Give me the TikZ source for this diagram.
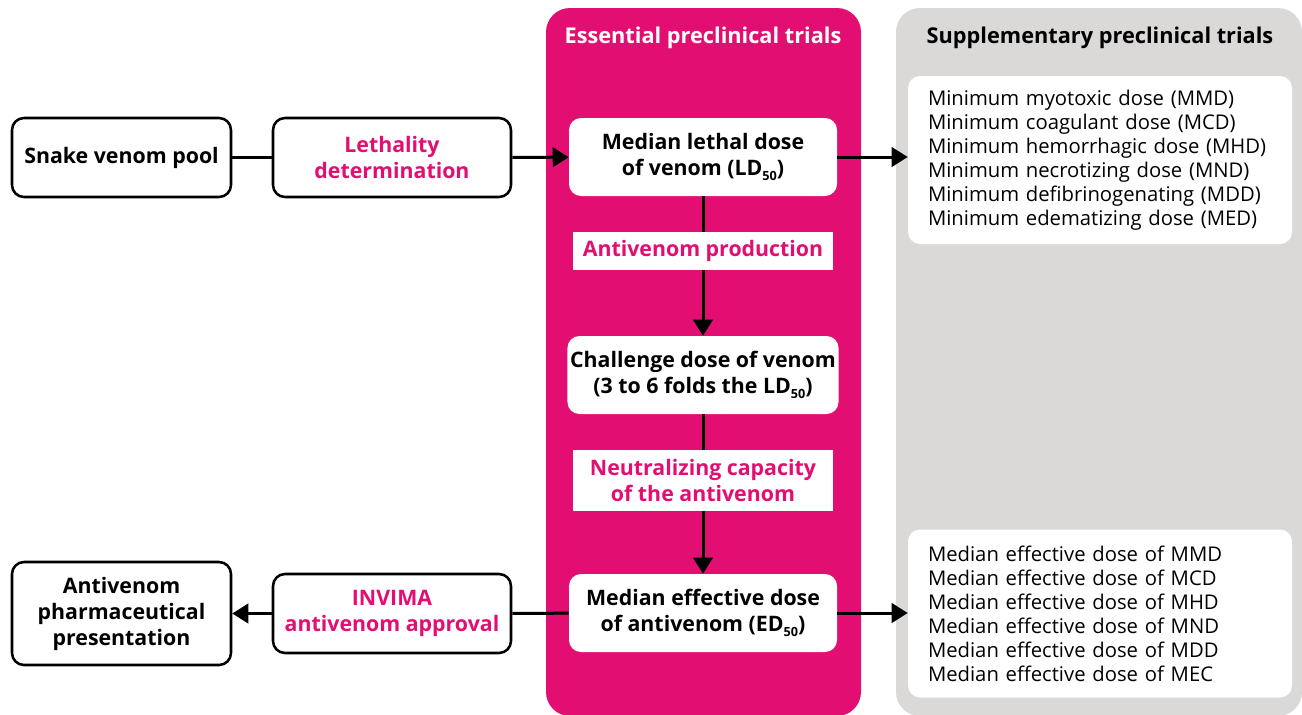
\documentclass[tikz,border=0pt]{standalone}
\usepackage{fontspec}
\setmainfont{Open Sans}
\usetikzlibrary{arrows.meta}
\definecolor{brand}{RGB}{226,14,114}
\definecolor{panelgray}{RGB}{218,217,216}
\newcommand{\subn}[1]{\raisebox{-0.45ex}{\fontsize{9.5}{9.5}\selectfont #1}}
\begin{document}
\begin{tikzpicture}[x=0.75pt,y=-0.75pt,
  boxtext/.style={font=\fontsize{16}{19.5}\selectfont\bfseries, align=center},
  outlined/.style={boxtext, draw=black, line width=1.9pt, rounded corners=9pt, fill=white,
    minimum width=164.25pt, minimum height=59.25pt, inner sep=2pt},
  stage/.style={boxtext, fill=white, rounded corners=9pt, minimum width=201pt,
    minimum height=58.5pt, inner sep=2pt},
  tag/.style={boxtext, fill=white, text=brand, minimum width=195pt, inner sep=2pt},
  listbox/.style={fill=white, rounded corners=9pt, minimum width=288pt, minimum height=126pt,
    text width=258pt, align=left, inner xsep=15pt,
    font=\fontsize{15.2}{18}\selectfont},
  title/.style={font=\fontsize{16.3}{18}\selectfont\bfseries},
  conn/.style={line width=2.25pt},
  arrow/.style={conn, -{Triangle[length=12pt,width=14.5pt]}}]
\useasboundingbox (0,0) rectangle (1302,714);

% background panels
\fill[brand, rounded corners=18pt] (546,8) rectangle (861,716);
\fill[panelgray, rounded corners=18pt] (896,8) rectangle (1302,716);
\node[title, text=white] (esstitle) at (703,38) {Essential preclinical trials};
\node[title, text=black] (suptitle) at (1100,38) {Supplementary preclinical trials};

% left column
\node[outlined] (pool) at (121.5,157.5) {Snake venom pool};
\node[outlined, minimum width=178.5pt, text=brand] (leth) at (392,157.5) {Lethality\\determination};
\node[outlined, minimum height=77.25pt] (pharm) at (121.5,613.5) {Antivenom\\pharmaceutical\\presentation};
\node[outlined, minimum width=178.5pt, text=brand] (invima) at (392,613.5) {INVIMA\\antivenom approval};

% essential trials
\node[stage] (ld) at (703,157) {Median lethal dose\\of venom (LD\subn{50})};
\node[stage] (chal) at (703,375) {Challenge dose of venom\\(3 to 6 folds the LD\subn{50})};
\node[stage] (ed) at (703,613) {Median effective dose\\of antivenom (ED\subn{50})};

% supplementary trials
\node[listbox] (mintop) at (1100,160) {Minimum myotoxic dose (MMD)\\Minimum coagulant dose (MCD)\\Minimum hemorrhagic dose (MHD)\\Minimum necrotizing dose (MND)\\Minimum defibrinogenating (MDD)\\Minimum edematizing dose (MED)};
\node[listbox] (effbot) at (1100,613.5) {Median effective dose of MMD\\Median effective dose of MCD\\Median effective dose of MHD\\Median effective dose of MND\\Median effective dose of MDD\\Median effective dose of MEC};

% connectors
\draw[conn] (pool) -- (leth);
\draw[arrow] (leth) -- (ld);
\draw[arrow] (ld.east) -- (ld.east -| mintop.west);
\draw[arrow] (ld) -- (chal);
\draw[arrow] (chal) -- (ed);
\draw[arrow] (ed.east) -- (ed.east -| effbot.west);
\draw[conn] (ed) -- (invima);
\draw[arrow] (invima) -- (pharm);

% step labels over the vertical connectors
\node[tag, minimum height=28.5pt] (prod) at (703,251) {Antivenom production};
\node[tag, minimum height=45.75pt] (neut) at (703,480.5) {Neutralizing capacity\\of the antivenom};
\end{tikzpicture}
\end{document}
